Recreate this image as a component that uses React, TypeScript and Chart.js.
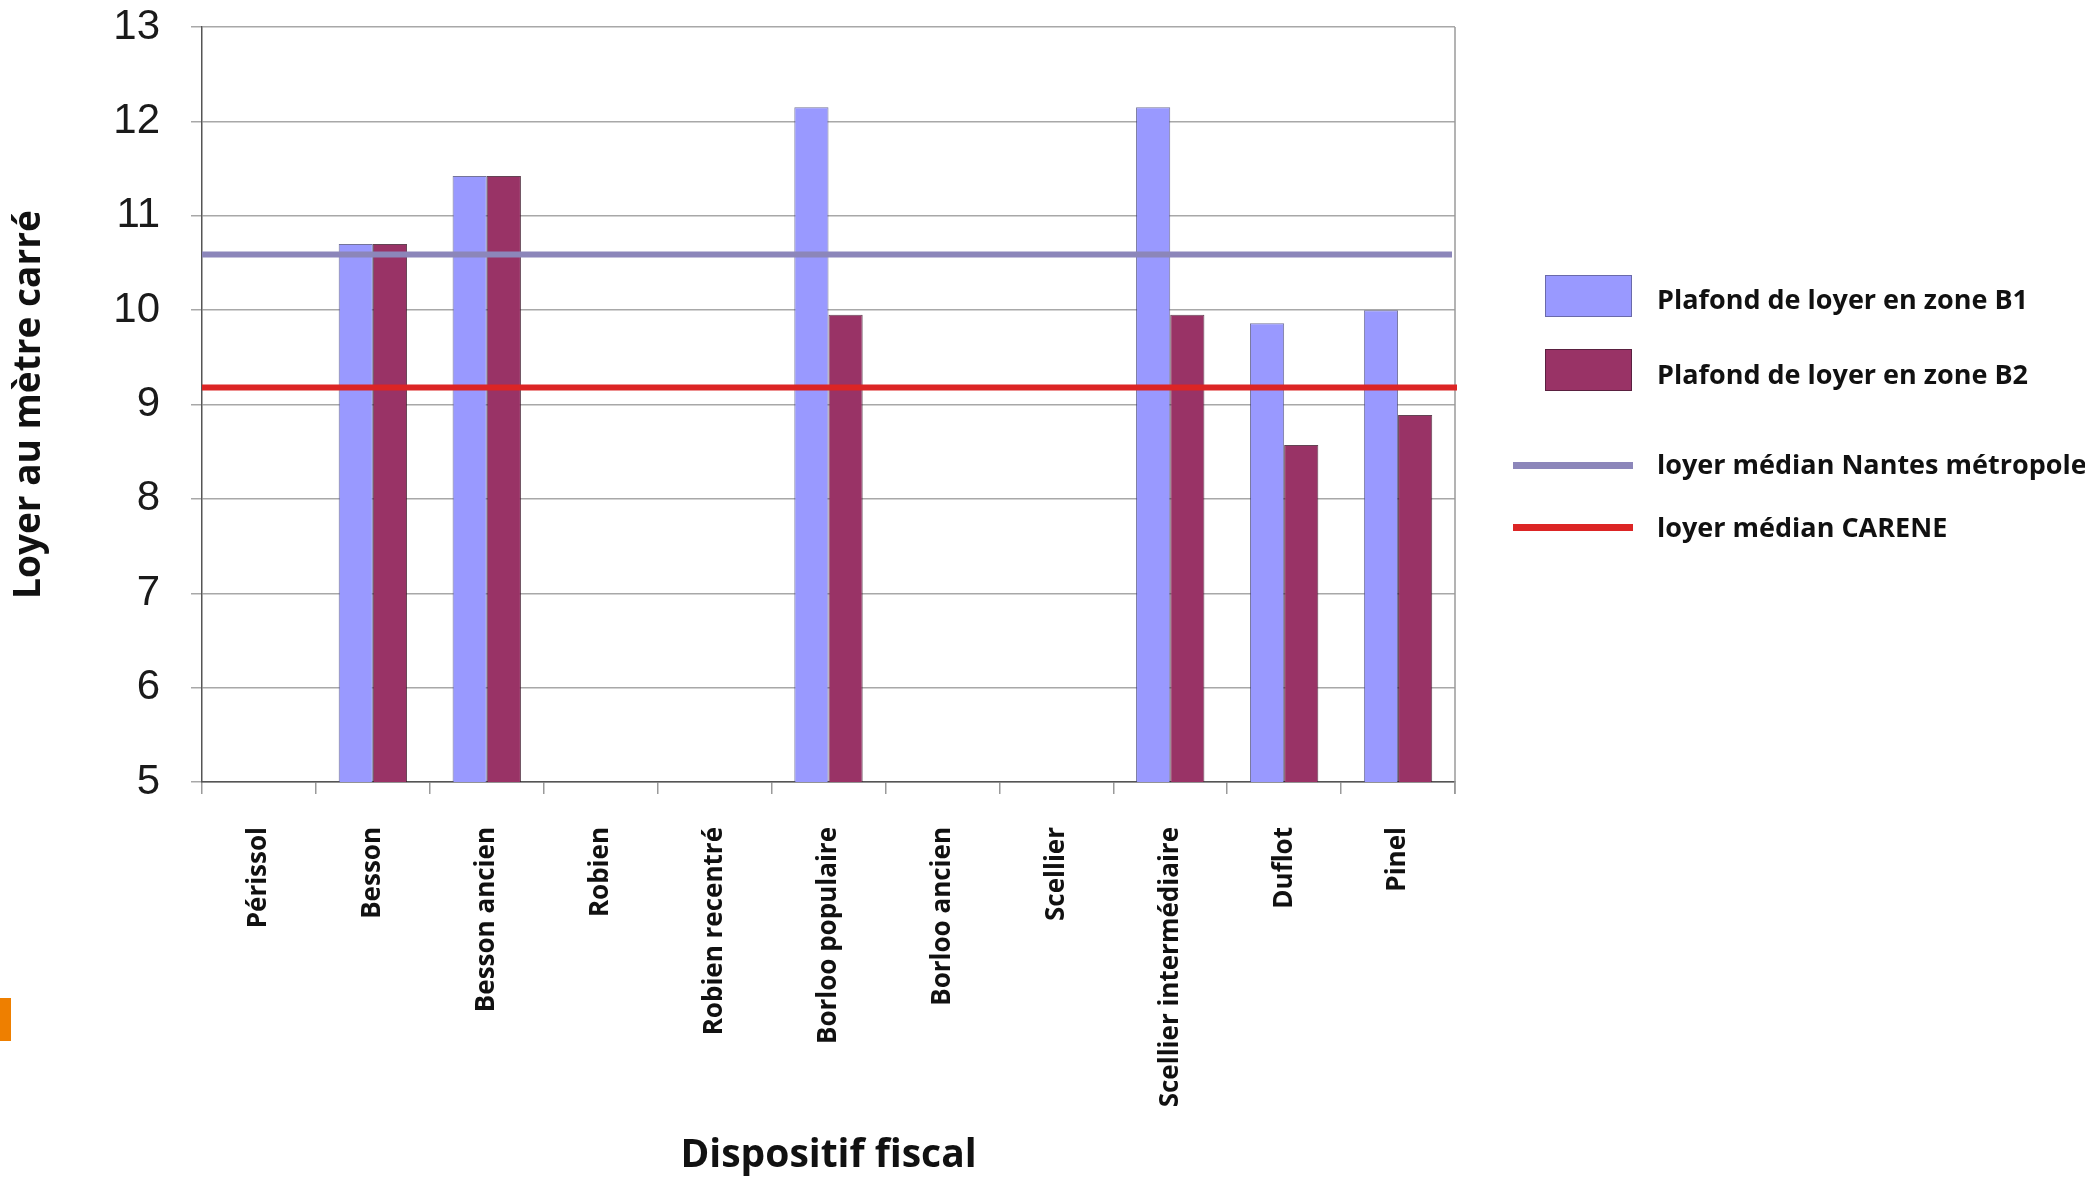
import React, { useEffect, useRef } from "react";
import { Chart, registerables } from "chart.js";

Chart.register(...registerables);

const categories = [
  "Périssol",
  "Besson",
  "Besson ancien",
  "Robien",
  "Robien recentré",
  "Borloo populaire",
  "Borloo ancien",
  "Scellier",
  "Scellier intermédiaire",
  "Duflot",
  "Pinel",
];
const zoneB1 = [null, 10.7, 11.42, null, null, 12.15, null, null, 12.15, 9.86, 10.0];
const zoneB2 = [null, 10.7, 11.42, null, null, 9.95, null, null, 9.95, 8.57, 8.89];
const medianNantes = 10.59;
const medianCarene = 9.18;
const yTicks = [5, 6, 7, 8, 9, 10, 11, 12, 13];

const seriesLabels = ["Plafond de loyer en zone B1", "Plafond de loyer en zone B2"];
const lineLabels = ["loyer médian Nantes métropole", "loyer médian CARENE"];

const B1_COLOR = "#9999FF";
const B2_COLOR = "#993366";
const NANTES_COLOR = "#8C86BA";
const CARENE_COLOR = "#DC2525";

const boldFont = "'Open Sans', 'DejaVu Sans', sans-serif";

const refLines = [
  { value: medianNantes, color: NANTES_COLOR, extra: -3 },
  { value: medianCarene, color: CARENE_COLOR, extra: 2 },
];

const refLinesPlugin = {
  id: "refLines",
  beforeDatasetsDraw(chart: any) {
    const { ctx, chartArea } = chart;
    ctx.save();
    ctx.strokeStyle = "#9a9a9a";
    ctx.lineWidth = 1.5;
    ctx.beginPath();
    ctx.moveTo(chartArea.right, chartArea.top);
    ctx.lineTo(chartArea.right, chartArea.bottom + 12);
    ctx.stroke();
    ctx.restore();
  },
  afterDatasetsDraw(chart: any) {
    const { ctx, chartArea, scales } = chart;
    const y = scales.y;
    ctx.save();
    ctx.lineWidth = 6;
    for (const l of refLines) {
      const py = y.getPixelForValue(l.value);
      ctx.strokeStyle = l.color;
      ctx.beginPath();
      ctx.moveTo(chartArea.left, py);
      ctx.lineTo(chartArea.right + l.extra, py);
      ctx.stroke();
    }
    ctx.restore();
  },
};

export default function App() {
  const canvasRef = useRef<HTMLCanvasElement>(null);

  useEffect(() => {
    const chart = new Chart(canvasRef.current as HTMLCanvasElement, {
      type: "bar",
      data: {
        labels: categories,
        datasets: [
          {
            label: seriesLabels[0],
            data: zoneB1 as any,
            backgroundColor: B1_COLOR,
            borderColor: "rgba(70,70,120,0.75)",
            borderWidth: 1,
            categoryPercentage: 0.6,
            barPercentage: 1.0,
          },
          {
            label: seriesLabels[1],
            data: zoneB2 as any,
            backgroundColor: B2_COLOR,
            borderColor: "rgba(60,20,40,0.8)",
            borderWidth: 1,
            categoryPercentage: 0.6,
            barPercentage: 1.0,
          },
        ],
      },
      options: {
        responsive: false,
        animation: false,
        layout: { padding: { top: 0, right: 630, bottom: 0, left: 0 } },
        plugins: {
          legend: { display: false },
          tooltip: { enabled: false },
        },
        scales: {
          x: {
            grid: {
              offset: true,
              drawOnChartArea: false,
              drawTicks: true,
              tickLength: 12,
              color: "#9a9a9a",
              lineWidth: 1.5,
            },
            border: { color: "#555", width: 1.5 },
            ticks: {
              minRotation: 90,
              maxRotation: 90,
              autoSkip: false,
              padding: 33,
              color: "#111",
              font: { family: boldFont, weight: "bold", size: 26 },
            },
            title: {
              display: true,
              text: "Dispositif fiscal",
              color: "#111",
              font: { family: boldFont, weight: "bold", size: 39 },
              padding: { top: 0, bottom: 0 },
            },
            afterFit: (s: any) => {
              s.height = 397;
            },
          },
          y: {
            min: yTicks[0],
            max: yTicks[yTicks.length - 1],
            afterBuildTicks: (s: any) => {
              s.ticks = yTicks.map((v) => ({ value: v }));
            },
            ticks: {
              stepSize: 1,
              padding: 31,
              color: "#1a1a1a",
              font: { family: "'Liberation Sans', Arial, sans-serif", size: 42 },
            },
            grid: { color: "#a8a8a8", lineWidth: 1.5, tickLength: 11 },
            border: { color: "#555", width: 1.5 },
            title: {
              display: true,
              text: "Loyer au mètre carré",
              color: "#111",
              font: { family: boldFont, weight: "bold", size: 37 },
              padding: { top: 7, bottom: 0 },
            },
            afterFit: (s: any) => {
              s.width = 202;
              s.paddingTop = 27;
            },
          },
        },
      } as any,
      plugins: [refLinesPlugin],
    });
    return () => chart.destroy();
  }, []);

  const legendText: React.CSSProperties = {
    position: "absolute",
    left: 1657,
    fontFamily: boldFont,
    fontWeight: 700,
    fontSize: 27,
    color: "#111",
    whiteSpace: "nowrap",
    lineHeight: "36px",
    height: 36,
  };

  return (
    <div
      style={{
        position: "fixed",
        left: 0,
        top: 0,
        width: 2085,
        height: 1179,
        background: "#fff",
        overflow: "hidden",
      }}
    >
      <canvas ref={canvasRef} width={2085} height={1179} style={{ width: 2085, height: 1179, display: "block" }} />
      <div style={{ position: "absolute", left: 1545, top: 275, width: 85, height: 40, background: B1_COLOR, border: "1.5px solid #6a6aaa" }} />
      <div style={{ ...legendText, top: 281 }}>{seriesLabels[0]}</div>
      <div style={{ position: "absolute", left: 1545, top: 349, width: 85, height: 40, background: B2_COLOR, border: "1.5px solid #5a2040" }} />
      <div style={{ ...legendText, top: 356 }}>{seriesLabels[1]}</div>
      <div style={{ position: "absolute", left: 1513, top: 462, width: 120, height: 7, background: NANTES_COLOR }} />
      <div style={{ ...legendText, top: 446 }}>{lineLabels[0]}</div>
      <div style={{ position: "absolute", left: 1513, top: 524, width: 120, height: 7, background: CARENE_COLOR }} />
      <div style={{ ...legendText, top: 509 }}>{lineLabels[1]}</div>
      <div style={{ position: "absolute", left: 0, top: 998, width: 11, height: 43, background: "#EE7F00" }} />
    </div>
  );
}
